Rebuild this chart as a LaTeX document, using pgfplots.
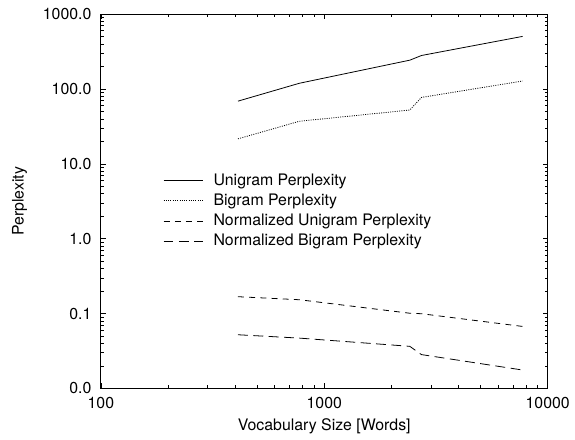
\documentclass[border=0pt]{standalone}
\usepackage{pgfplots}
\pgfplotsset{compat=1.18}
\usepackage{fontspec}
\setmainfont{TeX Gyre Heros}
\begin{document}
\fontsize{16bp}{19bp}\selectfont
\begin{tikzpicture}
\begin{axis}[
  name=ax,
  scale only axis,
  width=450.6bp, height=377.4bp,
  xmode=log, ymode=log,
  xmin=100, xmax=10000, ymin=0.01, ymax=1000,
  xtick={100,1000,10000},
  xticklabels={100,1000,10000},
  ytick={0.01,0.1,1,10,100,1000},
  yticklabels={0.0,0.1,1.0,10.0,100.0,1000.0},
  tick align=inside,
  major tick length=5bp, minor tick length=3bp,
  xtick pos=both, ytick pos=both,
  tick style={black, line width=0.6pt},
  axis line style={line width=0.8pt},
  yticklabel style={xshift=-4bp},
  xticklabel style={yshift=-3bp},
  xlabel={Vocabulary Size [Words]},
  ylabel={Perplexity},
  ylabel style={yshift=5bp},
  legend cell align=left,
  legend style={at={(0.1324,0.585)}, anchor=north west, draw=none, fill=none,
    font=\fontsize{16bp}{19bp}\selectfont, row sep=2.3bp, column sep=8bp},
  legend image code/.code={\draw[#1] (0bp,0bp) -- (40bp,0bp);},
  every axis plot/.append style={black, line width=0.8pt},
]
\addplot[solid] coordinates {(411,68.9) (774,119.4) (2415,243) (2723,280.5) (7730,505)};
\addlegendentry{Unigram Perplexity}
\addplot[dash pattern=on 1bp off 1.3bp] coordinates {(411,21.6) (774,37.1) (2415,52.4) (2723,77.2) (7730,128)};
\addlegendentry{Bigram Perplexity}
\addplot[dash pattern=on 6bp off 5.3bp] coordinates {(411,0.168) (774,0.153) (2415,0.101) (2723,0.0995) (7730,0.0673)};
\addlegendentry{Normalized Unigram Perplexity}
\addplot[dash pattern=on 10bp off 5.5bp] coordinates {(411,0.0521) (774,0.047) (2415,0.0365) (2723,0.0283) (7730,0.0176)};
\addlegendentry{Normalized Bigram Perplexity}
\end{axis}
\path (ax.south west) -- ++(-101.7bp,-46.3bp);
\path (ax.north east) -- ++(22.7bp,14.3bp);
\end{tikzpicture}
\end{document}
